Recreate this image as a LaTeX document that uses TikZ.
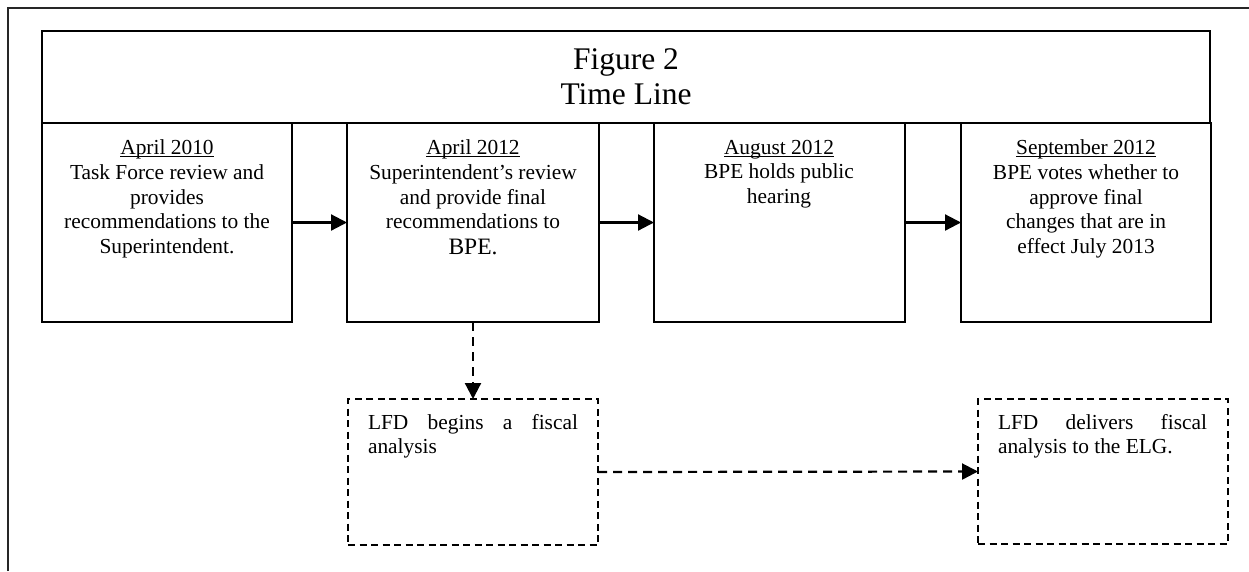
\documentclass[tikz,border=0pt]{standalone}
\usepackage{fontspec}
\setmainfont{Liberation Serif}
\usetikzlibrary{arrows.meta}
\newcommand\myul[1]{\leavevmode\setbox0\hbox{#1}\rlap{\rule[-2.6pt]{\wd0}{1.1pt}}\box0}
\tikzset{
  stepbox/.style={draw=black, line width=1.4pt, fill=none, inner sep=0pt, outer sep=0pt, anchor=north west},
  dbox/.style={draw=black, line width=1.4pt, dash pattern=on 7pt off 4.5pt, inner sep=0pt, outer sep=0pt, anchor=north west},
  boxtext/.style={inner sep=0pt, outer sep=0pt, align=center, anchor=north, font=\fontsize{21.4}{24.6}\selectfont},
  dtext/.style={inner sep=0pt, outer sep=0pt, align=left, anchor=north west, font=\fontsize{21.4}{24.6}\selectfont},
  conn/.style={line width=2.2pt, -{Triangle[length=16pt,width=16pt]}},
  dconn/.style={line width=2.2pt, dash pattern=on 9pt off 6pt, -{Triangle[length=16pt,width=16pt]}},
}
\begin{document}
\begin{tikzpicture}[x=1pt,y=-1pt]
\useasboundingbox (0,0) rectangle (1249,571);
% outer frame (cropped)
\draw[line width=1.5pt, black!85] (8,571) -- (8,8) -- (1249,8);
% title box
\node[stepbox, line width=1.6pt, minimum width=1168pt, minimum height=92pt] (title) at (42,31) {};
\node[inner sep=0pt, align=center, font=\fontsize{31.5}{35}\selectfont] (titletext) at (title.center) {Figure 2\\Time Line};
% boxes
\node[stepbox, minimum width=250pt, minimum height=199pt] (b1) at (42,123) {};
\node[stepbox, minimum width=252pt, minimum height=199pt] (b2) at (347,123) {};
\node[stepbox, minimum width=251pt, minimum height=199pt] (b3) at (654,123) {};
\node[stepbox, minimum width=250pt, minimum height=199pt] (b4) at (961,123) {};
% box texts
\node[boxtext] (t1) at (167,140) {\myul{April 2010}\\Task Force review and\\provides\\recommendations to the\\Superintendent.};
\node[boxtext] (t2) at (473,140) {\myul{April 2012}\\Superintendent’s review\\and provide final\\recommendations to\\[1pt]{\fontsize{23.5}{27}\selectfont BPE.}};
\node[boxtext] (t3) at (779,140) {\myul{August 2012}\\BPE holds public\\hearing};
\node[boxtext] (t4) at (1086,140) {\myul{September 2012}\\BPE votes whether to\\approve final\\changes that are in\\effect July 2013};
% dashed boxes
\node[dbox, minimum width=250pt, minimum height=146pt] (d1) at (348,399) {};
\node[dbox, minimum width=250pt, minimum height=145pt] (d2) at (978,399) {};
\node[dtext] (dt1) at (368,414) {\hbox to 210pt{LFD\hfill begins\hfill a\hfill fiscal}\\analysis};
\node[dtext] (dt2) at (998,414) {\hbox to 209pt{LFD\hfill delivers\hfill fiscal}\\analysis to the ELG.};
% connectors
\draw[conn] (b1.east) -- (b2.west);
\draw[conn] (b2.east) -- (b3.west);
\draw[conn] (b3.east) -- (b4.west);
\draw[dconn] (b2.south) -- (d1.north);
\draw[dconn] (d1.east) -- (d2.west);
\end{tikzpicture}
\end{document}
